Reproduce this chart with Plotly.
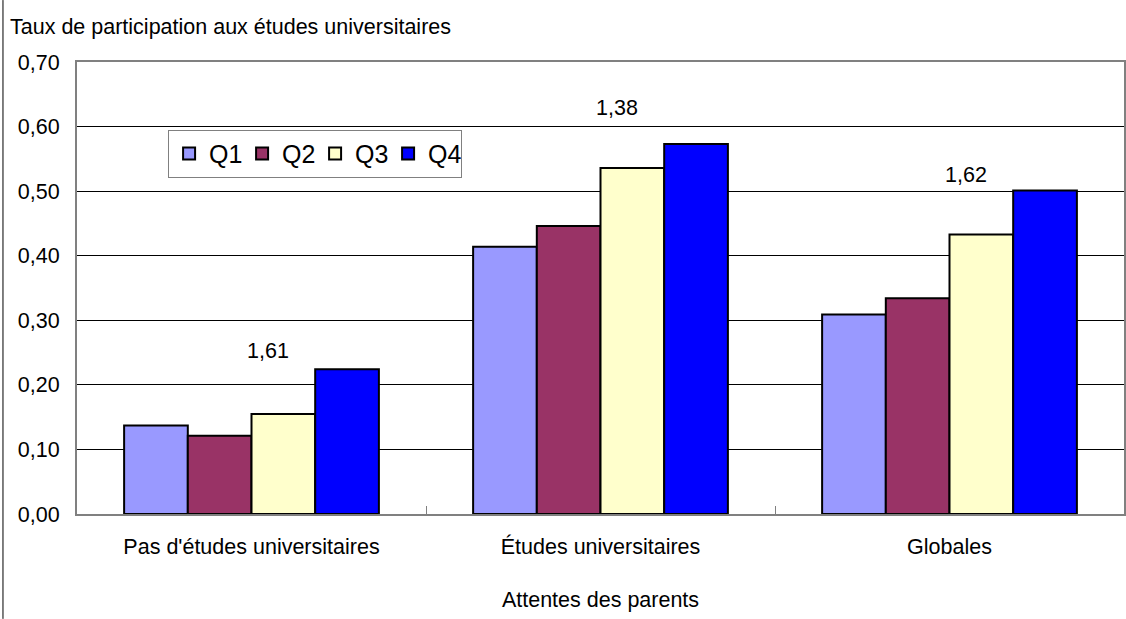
import plotly.graph_objects as go

categories = ["Pas d'études universitaires", "Études universitaires", "Globales"]
series_names = ["Q1", "Q2", "Q3", "Q4"]
q1 = [0.137, 0.414, 0.309]
q2 = [0.121, 0.446, 0.334]
q3 = [0.155, 0.536, 0.433]
q4 = [0.224, 0.573, 0.501]
ratio_labels = ["1,61", "1,38", "1,62"]
ratio_y = [0.252, 0.629, 0.525]
y_ticks = [0.0, 0.1, 0.2, 0.3, 0.4, 0.5, 0.6, 0.7]
y_tick_labels = ["0,00", "0,10", "0,20", "0,30", "0,40", "0,50", "0,60", "0,70"]

colors = ["#9999FF", "#993366", "#FFFFCC", "#0000FF"]
FONT = "Liberation Sans, Arial, sans-serif"
FS = 21.5

fig = go.Figure()
for name, vals, col in zip(series_names, [q1, q2, q3, q4], colors):
    fig.add_trace(go.Bar(
        x=categories, y=vals, name=name,
        marker=dict(color=col, line=dict(color="black", width=2)),
    ))

annotations = []
for cat, lab, yv in zip(categories, ratio_labels, ratio_y):
    annotations.append(dict(x=cat, y=yv, xref="x", yref="y", text=lab,
                            showarrow=False, xshift=16,
                            font=dict(size=FS, color="black", family=FONT)))

annotations.append(dict(x=-0.066, y=1.077, xref="paper", yref="paper",
                        text="Taux de participation aux études universitaires",
                        showarrow=False, xanchor="left", yanchor="middle",
                        font=dict(size=FS, color="black", family=FONT)))

fig.update_layout(
    width=1126, height=619,
    margin=dict(l=77, r=2, t=62, b=105, autoexpand=False),
    paper_bgcolor="white", plot_bgcolor="white",
    barmode="group", bargap=0.27, bargroupgap=0,
    font=dict(family=FONT, size=FS, color="black"),
    annotations=annotations,
    showlegend=True,
    legend=dict(orientation="h", x=0.087, y=0.85, xanchor="left", yanchor="top",
                bordercolor="#808080", borderwidth=1, bgcolor="white",
                font=dict(size=25, color="black", family=FONT),
                itemwidth=30, tracegroupgap=0, entrywidth=28, entrywidthmode="pixels"),
    shapes=[dict(type="line", xref="paper", yref="paper",
                 x0=-0.0707, x1=-0.0707, y0=-0.232, y1=1.137,
                 line=dict(color="black", width=1))],
)

fig.update_xaxes(
    type="category", showline=True, linecolor="#808080", linewidth=2, mirror=True,
    ticks="inside", tickson="boundaries", ticklen=8, tickcolor="#808080",
    showgrid=False, tickfont=dict(size=FS, family=FONT), ticklabelstandoff=12,
    title=dict(text="Attentes des parents", font=dict(size=FS, family=FONT), standoff=34),
)
fig.update_yaxes(
    range=[0, 0.7], tickvals=y_ticks, ticktext=y_tick_labels,
    showline=True, linecolor="#808080", linewidth=2, mirror=True,
    showgrid=True, gridcolor="black", gridwidth=1, zeroline=False,
    ticks="", tickfont=dict(size=FS, family=FONT), ticklabelstandoff=11,
)

fig.write_html("out.html", config={"displayModeBar": False},
               post_script="document.body.style.margin='0';")
